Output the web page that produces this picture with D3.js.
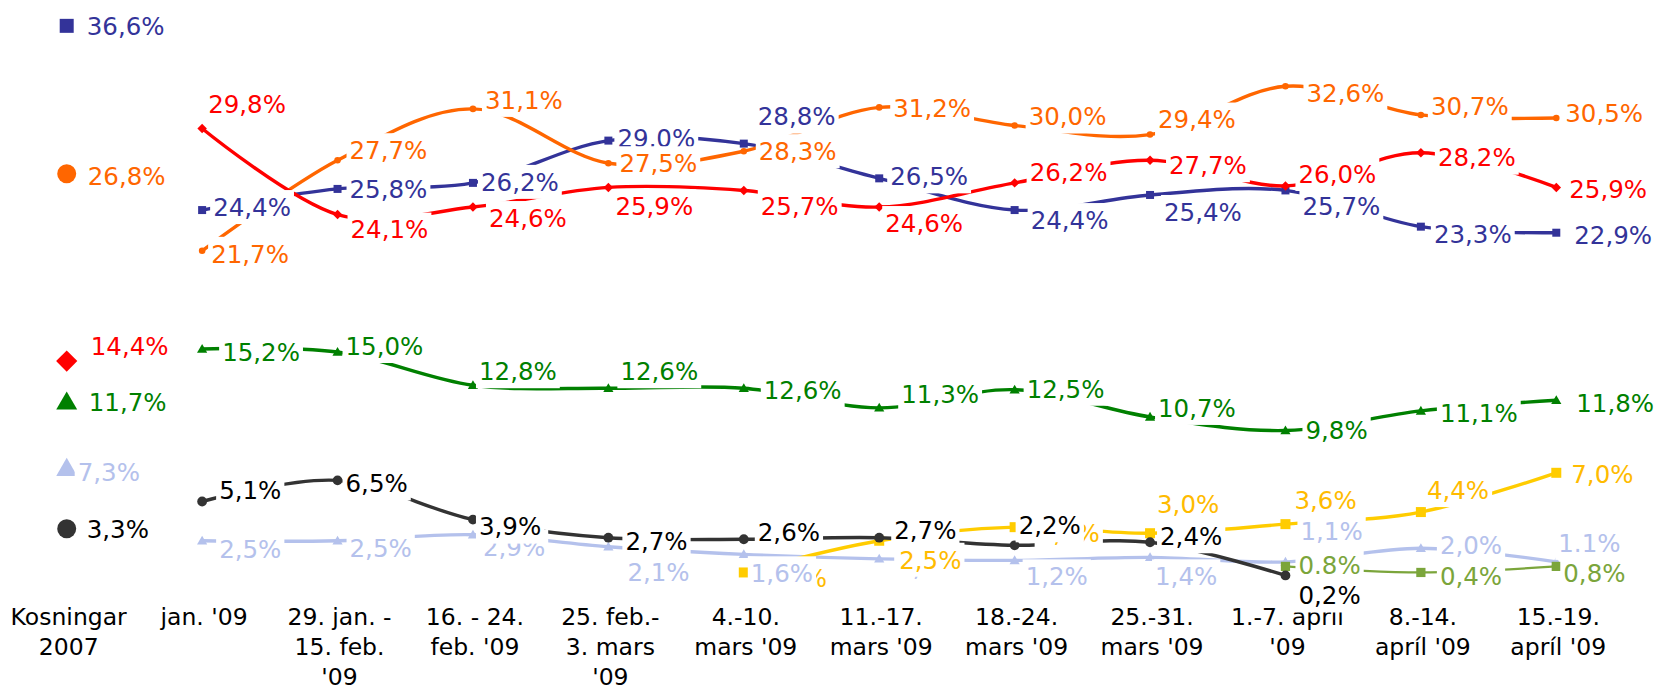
<!DOCTYPE html>
<html>
<head>
<meta charset="utf-8">
<script src="https://cdn.jsdelivr.net/npm/d3@7"></script>
<style>
  body { margin: 0; background: #fff; }
  text { font-family: "DejaVu Sans", Verdana, sans-serif; }
</style>
</head>
<body>
<div id="chart"></div>
<script>
// kosningar 2007 + kannanir 2009
const categories = [
  ["Kosningar", "2007"], ["jan. '09"], ["29. jan. -", "15. feb.", "'09"],
  ["16. - 24.", "feb. '09"], ["25. feb.-", "3. mars", "'09"], ["4.-10.", "mars '09"],
  ["11.-17.", "mars '09"], ["18.-24.", "mars '09"], ["25.-31.", "mars '09"],
  ["1.-7. apríl", "'09"], ["8.-14.", "apríl '09"], ["15.-19.", "apríl '09"]
];

const seriesD = [36.6, 24.4, 25.8, 26.2, 29.0, 28.8, 26.5, 24.4, 25.4, 25.7, 23.3, 22.9];
const seriesS = [26.8, 21.7, 27.7, 31.1, 27.5, 28.3, 31.2, 30.0, 29.4, 32.6, 30.7, 30.5];
const seriesV = [14.4, 29.8, 24.1, 24.6, 25.9, 25.7, 24.6, 26.2, 27.7, 26.0, 28.2, 25.9];
const seriesB = [11.7, 15.2, 15.0, 12.8, 12.6, 12.6, 11.3, 12.5, 10.7, 9.8, 11.1, 11.8];
const seriesF = [7.3, 2.5, 2.5, 2.9, 2.1, 1.6, 1.3, 1.2, 1.4, 1.1, 2.0, 1.1];
const seriesI = [3.3, 5.1, 6.5, 3.9, 2.7, 2.6, 2.7, 2.2, 2.4, 0.2, null, null];
const seriesO = [null, null, null, null, null, 0.4, 2.5, 3.4, 3.0, 3.6, 4.4, 7.0];
const seriesP = [null, null, null, null, null, null, null, null, null, 0.8, 0.4, 0.8];

// labels written with a point instead of a comma in the original
const periodLabels = new Set(["P:9", "F:11"]);

// label offsets from the point (dx to text start, dy to text middle)
const labelNudge = {
  D: [[20,0],[11,-3],[12,0],[8,-1],[9,-2],[14,-27],[11,-2],[16,10],[14,17],[17,16],[13,8],[18,2]],
  S: [[21,2],[9,3],[12,-10],[12,-9],[11,0],[15,0],[14,1],[14,-9],[8,-15],[21,7],[10,-9],[9,-5]],
  V: [[24,-15],[6,-24],[13,15],[16,11],[7,19],[17,16],[6,16],[15,-11],[19,5],[13,-12],[17,5],[13,2]],
  B: [[22,0],[20,3],[8,-6],[6,-14],[12,-17],[20,2],[22,-14],[12,-1],[8,-9],[20,0],[19,2],[20,3]],
  F: [[11,4],[17,8],[12,7],[10,12],[19,25],[7,19],[18,8],[11,16],[5,19],[15,-31],[19,-3],[2,-19]],
  I: [[20,1],[17,-11],[8,3],[6,7],[17,3],[14,-7],[15,-8],[4,-20],[10,-6],[13,20],null,null],
  O: [null,null,null,null,null,[21,6],[20,19],[23,6],[7,-29],[9,-24],[6,-22],[15,1]],
  P: [null,null,null,null,null,null,null,null,null,[13,-1],[19,4],[7,7]]
};
// labels that sit behind others
const labelsUnder = new Set(["O:5", "F:6", "O:7", "F:3", "F:4"]);

const series = [
  { key: "F", values: seriesF, color: "#b4c1ec", text: "#b4c1ec", shape: "triangle", small: 45, big: 190, width: 3.4 },
  { key: "D", values: seriesD, color: "#333399", text: "#333399", shape: "square", small: 64, big: 196, width: 3.4 },
  { key: "S", values: seriesS, color: "#ff6600", text: "#ff6600", shape: "circle", small: 34, big: 283, width: 3.4 },
  { key: "B", values: seriesB, color: "#008000", text: "#008000", shape: "triangle", small: 45, big: 190, width: 3.4 },
  { key: "O", values: seriesO, color: "#ffcc00", text: "#ffbb00", shape: "square", small: 100, big: 100, width: 3.4 },
  { key: "P", values: seriesP, color: "#7ba53b", text: "#7ba53b", shape: "square", small: 85, big: 85, width: 2.2 },
  { key: "I", values: seriesI, color: "#333333", text: "#000000", shape: "circle", small: 75, big: 283, width: 3.4 },
  { key: "V", values: seriesV, color: "#ff0000", text: "#ff0000", shape: "diamond", small: 45, big: 225, width: 3.4 }
];
const labelOrder = ["D", "S", "V", "B", "F", "O", "I", "P"];

const W = 1659, H = 690;
const svg = d3.select("#chart").append("svg")
  .attr("width", W)
  .attr("height", H);

const x = d3.scalePoint()
  .domain(d3.range(categories.length))
  .range([-1, 1624])
  .padding(0.5);
const y = d3.scaleLinear()
  .domain([0, 38])
  .range([578.5, 578.5 - 38 * 15.1]);

const symbolFor = (shape, size) => {
  if (shape === "circle") return d3.symbol(d3.symbolCircle, size)();
  if (shape === "triangle") return d3.symbol(d3.symbolTriangle, size)();
  return d3.symbol(d3.symbolSquare, size)();
};

const line = d3.line()
  .defined((d) => d.v != null)
  .x((d) => x(d.i))
  .y((d) => y(d.v))
  .curve(d3.curveCardinal.tension(0));

// category labels
const axis = svg.append("g");
categories.forEach((lines, i) => {
  const t = axis.append("text")
    .attr("x", x(i) + 2)
    .attr("text-anchor", "middle")
    .attr("font-size", 23.5)
    .attr("fill", "#000");
  lines.forEach((s, j) => {
    t.append("tspan").attr("x", x(i) + 2).attr("y", 625 + j * 30).text(s);
  });
});

// lines and markers
const marks = svg.append("g");
series.forEach((s) => {
  const pts = s.values.map((v, i) => ({ v, i })).slice(1);
  marks.append("path")
    .attr("d", line(pts))
    .attr("fill", "none")
    .attr("stroke", s.color)
    .attr("stroke-width", s.width)
    .attr("stroke-linejoin", "round");

  s.values.forEach((v, i) => {
    if (v == null) return;
    const size = i === 0 ? s.big : s.small;
    const rot = s.shape === "diamond" ? " rotate(45)" : "";
    let ty = y(v);
    if (s.shape === "triangle") ty += Math.sqrt(size) * 0.12;
    marks.append("path")
      .attr("d", symbolFor(s.shape, size))
      .attr("transform", `translate(${x(i)},${ty})${rot}`)
      .attr("fill", s.color);
  });
});

// data labels with white boxes
const fmt = d3.format(".1f");
const labelList = [];
labelOrder.forEach((key) => {
  const s = series.find((d) => d.key === key);
  s.values.forEach((v, i) => {
    if (v == null) return;
    const id = `${key}:${i}`;
    let txt = fmt(v) + "%";
    if (!periodLabels.has(id)) txt = txt.replace(".", ",");
    const [dx, dy] = labelNudge[key][i];
    labelList.push({ id, txt, color: s.text, lx: x(i) + dx, ly: y(v) + dy, under: labelsUnder.has(id) });
  });
});
const ordered = labelList.filter((d) => d.under).concat(labelList.filter((d) => !d.under));

const labels = svg.append("g");
ordered.forEach((d) => {
  const g = labels.append("g");
  const rect = g.append("rect").attr("fill", "#fff");
  const t = g.append("text")
    .attr("x", d.lx)
    .attr("y", d.ly + 8.8)
    .attr("font-size", 24.5)
    .attr("fill", d.color)
    .text(d.txt);
  const w = t.node().getComputedTextLength();
  rect.attr("x", d.lx - 3)
    .attr("y", d.ly - 17)
    .attr("width", w + 6)
    .attr("height", 34);
});
</script>
</body>
</html>
